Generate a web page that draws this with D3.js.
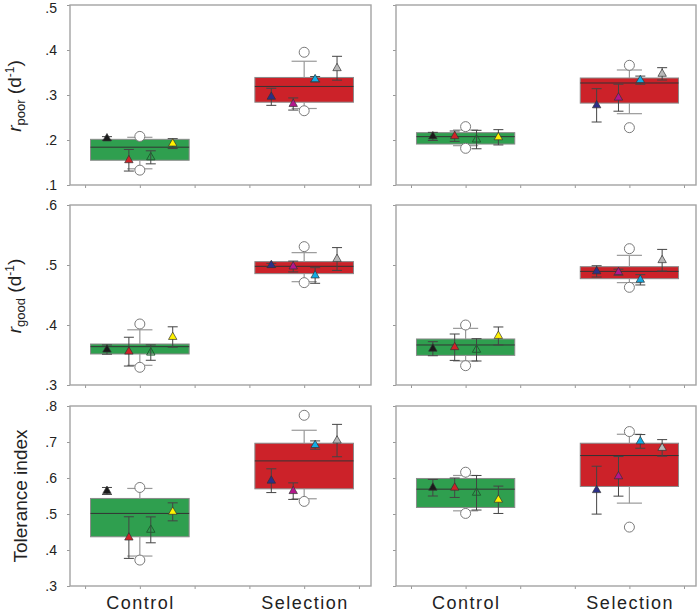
<!DOCTYPE html>
<html><head><meta charset="utf-8">
<script src="https://cdn.jsdelivr.net/npm/d3@7"></script>
<style>body{margin:0;background:#fff}svg{display:block}</style>
</head><body>
<script>
// ---------- data ----------
const categories = ["Control", "Selection"];
const xTicks = [0, 1, 2, 3, 4, 5];
const catPos = [1, 4];
const ctrlColors = ["#1a1a1a", "#d02228", "none", "#fff200"];
const selColors = ["#2b2f88", "#b4168c", "#12ace4", "#b9b9b9"];
const triOffsets = [-0.6, -0.2, 0.2, 0.6];

const yTicksPoor = [0.1, 0.2, 0.3, 0.4, 0.5];
const yLabelsPoor = [".1", ".2", ".3", ".4", ".5"];
const yTicksGood = [0.3, 0.4, 0.5, 0.6];
const yLabelsGood = [".3", ".4", ".5", ".6"];
const yTicksTol = [0.3, 0.4, 0.5, 0.6, 0.7, 0.8];
const yLabelsTol = [".3", ".4", ".5", ".6", ".7", ".8"];

// box stats per group: [whiskerLow, q1, median, q3, whiskerHigh, outlierLow, outlierHigh]
const boxPoorA = [[0.136, 0.155, 0.184, 0.2015, 0.206, 0.133, 0.208], [0.270, 0.284, 0.319, 0.339, 0.375, 0.265, 0.395]];
const boxPoorB = [[0.1874, 0.191, 0.2074, 0.2163, 0.2222, 0.1815, 0.2297], [0.2585, 0.282, 0.3267, 0.3378, 0.3556, 0.2274, 0.366]];
const boxGoodA = [[0.3328, 0.3517, 0.3639, 0.3683, 0.392, 0.3295, 0.4017], [0.4722, 0.4856, 0.4978, 0.5056, 0.5206, 0.4706, 0.5306]];
const boxGoodB = [[0.340, 0.3494, 0.3667, 0.3767, 0.3944, 0.3322, 0.400], [0.4706, 0.4772, 0.4894, 0.4972, 0.5161, 0.4628, 0.5272]];
const boxTolA = [[0.3832, 0.4367, 0.5016, 0.5432, 0.571, 0.372, 0.5737], [0.5423, 0.5699, 0.6475, 0.6966, 0.7326, 0.535, 0.7742]];
const boxTolB = [[0.5088, 0.5182, 0.569, 0.5987, 0.607, 0.5016, 0.6161], [0.5302, 0.5765, 0.6624, 0.6966, 0.7215, 0.4636, 0.729]];

// line means and standard errors per group
const meanPoorA = [[0.2035, 0.155, 0.1615, 0.192], [0.296, 0.280, 0.335, 0.3595]];
const sePoorA = [[0.004, 0.024, 0.0145, 0.011], [0.019, 0.0135, 0.006, 0.0265]];
const meanPoorB = [[0.208, 0.2085, 0.201, 0.206], [0.277, 0.294, 0.333, 0.347]];
const sePoorB = [[0.009, 0.0115, 0.0205, 0.017], [0.037, 0.030, 0.009, 0.0137]];
const meanGoodA = [[0.359, 0.3556, 0.354, 0.380], [0.4997, 0.4975, 0.4825, 0.510]];
const seGoodA = [[0.0077, 0.024, 0.0128, 0.017], [0.003, 0.009, 0.013, 0.019]];
const meanGoodB = [[0.3605, 0.363, 0.3586, 0.3817], [0.4894, 0.488, 0.4753, 0.508]];
const seGoodB = [[0.0117, 0.022, 0.0186, 0.015], [0.0094, 0.005, 0.0086, 0.018]];
const meanTolA = [[0.564, 0.4345, 0.456, 0.506], [0.5925, 0.5635, 0.6915, 0.704]];
const seTolA = [[0.0097, 0.0578, 0.036, 0.025], [0.033, 0.023, 0.0115, 0.045]];
const meanTolB = [[0.573, 0.573, 0.559, 0.5395], [0.5662, 0.6046, 0.7017, 0.6836]];
const seTolB = [[0.023, 0.027, 0.048, 0.038], [0.0665, 0.055, 0.019, 0.023]];

// ---------- layout ----------
const W = 697, H = 614;
const cols = [{x: 70, w: 301}, {x: 396, w: 300}];
const rows = [
  {y0: 5, y1: 185, dom: [0.1, 0.5], ticks: yTicksPoor, labels: yLabelsPoor, box: [boxPoorA, boxPoorB], mean: [meanPoorA, meanPoorB], se: [sePoorA, sePoorB]},
  {y0: 205, y1: 385, dom: [0.3, 0.6], ticks: yTicksGood, labels: yLabelsGood, box: [boxGoodA, boxGoodB], mean: [meanGoodA, meanGoodB], se: [seGoodA, seGoodB]},
  {y0: 406, y1: 586, dom: [0.3, 0.8], ticks: yTicksTol, labels: yLabelsTol, box: [boxTolA, boxTolB], mean: [meanTolA, meanTolB], se: [seTolA, seTolB]}
];
const FONT = "'Liberation Sans', Arial, Helvetica, sans-serif";
const boxColors = ["#2f9f4f", "#cc2229"];

const svg = d3.select("body").append("svg").attr("width", W).attr("height", H)
  .style("font-family", FONT);

const triPath = "M0,-4.9L4.2,2.45L-4.2,2.45Z";

rows.forEach((row, ri) => {
  cols.forEach((col, ci) => {
    const g = svg.append("g");
    const x = d3.scaleLinear().domain([-0.275, 5.22]).range([col.x, col.x + col.w]);
    const y = d3.scaleLinear().domain(row.dom).range([row.y1, row.y0]);

    // axes
    const ya = d3.axisLeft(y).tickValues(row.ticks).tickSize(3).tickPadding(10)
      .tickFormat((d, i) => ci === 0 ? row.labels[i] : "");
    const yg = g.append("g").attr("transform", `translate(${col.x},0)`).call(ya);
    yg.select(".domain").remove();
    yg.selectAll(".tick line").attr("stroke", "#999").attr("stroke-width", 1);
    yg.selectAll(".tick text").attr("font-size", 14).attr("fill", "#222").style("font-family", FONT);
    // keep the very top label inside the picture
    if (ri === 0) yg.selectAll(".tick text").filter((d, i, n) => i === n.length - 1).attr("dy", "0.55em");

    const xa = d3.axisBottom(x).tickValues(xTicks).tickSize(3).tickFormat("");
    const xg = g.append("g").attr("transform", `translate(0,${row.y1})`).call(xa);
    xg.select(".domain").remove();
    xg.selectAll(".tick line").attr("stroke", "#999").attr("stroke-width", 1);

    // frame
    g.append("rect").attr("x", col.x).attr("y", row.y0).attr("width", col.w).attr("height", row.y1 - row.y0)
      .attr("fill", "none").attr("stroke", "#a3a3a3").attr("stroke-width", 1.4);

    categories.forEach((cat, gi) => {
      const b = row.box[ci][gi];
      const cx = catPos[gi];
      // box
      g.append("rect").attr("x", x(cx - 0.9)).attr("width", x(cx + 0.9) - x(cx - 0.9))
        .attr("y", y(b[3])).attr("height", y(b[1]) - y(b[3]))
        .attr("fill", boxColors[gi]).attr("stroke", "#8a8a8a").attr("stroke-width", 1);
      g.append("line").attr("x1", x(cx - 0.9)).attr("x2", x(cx + 0.9)).attr("y1", y(b[2])).attr("y2", y(b[2]))
        .attr("stroke", "#333").attr("stroke-width", 1);
      // whiskers
      [[b[3], b[4]], [b[1], b[0]]].forEach(([from, to]) => {
        g.append("line").attr("x1", x(cx)).attr("x2", x(cx)).attr("y1", y(from)).attr("y2", y(to))
          .attr("stroke", "#999").attr("stroke-width", 1.2);
        g.append("line").attr("x1", x(cx - 0.23)).attr("x2", x(cx + 0.23)).attr("y1", y(to)).attr("y2", y(to))
          .attr("stroke", "#999").attr("stroke-width", 1.2);
      });
      // outliers
      [b[5], b[6]].forEach(v => {
        g.append("circle").attr("cx", x(cx)).attr("cy", y(v)).attr("r", 5)
          .attr("fill", "#fff").attr("stroke", "#7a7a7a").attr("stroke-width", 1);
      });
      // line means with SE
      const means = row.mean[ci][gi], ses = row.se[ci][gi];
      const colors = gi === 0 ? ctrlColors : selColors;
      means.forEach((m, k) => {
        const px = x(cx + triOffsets[k]);
        const lo = m - ses[k], hi = m + ses[k];
        g.append("line").attr("x1", px).attr("x2", px).attr("y1", y(lo)).attr("y2", y(hi))
          .attr("stroke", "#444").attr("stroke-width", 1);
        [lo, hi].forEach(v => g.append("line").attr("x1", px - 5).attr("x2", px + 5).attr("y1", y(v)).attr("y2", y(v))
          .attr("stroke", "#444").attr("stroke-width", 1));
        g.append("path").attr("d", triPath).attr("transform", `translate(${px},${y(m)})`)
          .attr("fill", colors[k]).attr("stroke", colors[k] === "none" ? "#1f5f30" : "#333")
          .attr("stroke-width", colors[k] === "none" ? 1 : 0.7);
      });
    });

    // category labels under bottom row
    if (ri === 2) {
      categories.forEach((cat, gi) => {
        svg.append("text").attr("x", x(catPos[gi]) + 0.75).attr("y", 609).attr("text-anchor", "middle")
          .attr("font-size", 18).attr("letter-spacing", 1.5).attr("fill", "#222").text(cat);
      });
    }
  });
});

// y-axis titles
function rLabel(cy, sub) {
  const t = svg.append("text").attr("transform", `translate(21,${cy}) rotate(-90)`)
    .attr("text-anchor", "middle").attr("font-size", 19).attr("fill", "#222");
  t.append("tspan").attr("font-style", "italic").text("r");
  t.append("tspan").attr("font-size", 13).attr("dy", 4).text(sub);
  t.append("tspan").attr("dy", -4).text(" (d");
  t.append("tspan").attr("font-size", 12).attr("dy", -7).text("-1");
  t.append("tspan").attr("dy", 7).text(")");
}
rLabel(96, "poor");
rLabel(296, "good");
svg.append("text").attr("transform", `translate(27,496) rotate(-90)`)
  .attr("text-anchor", "middle").attr("font-size", 19).attr("fill", "#222").text("Tolerance index");
</script>
</body></html>
